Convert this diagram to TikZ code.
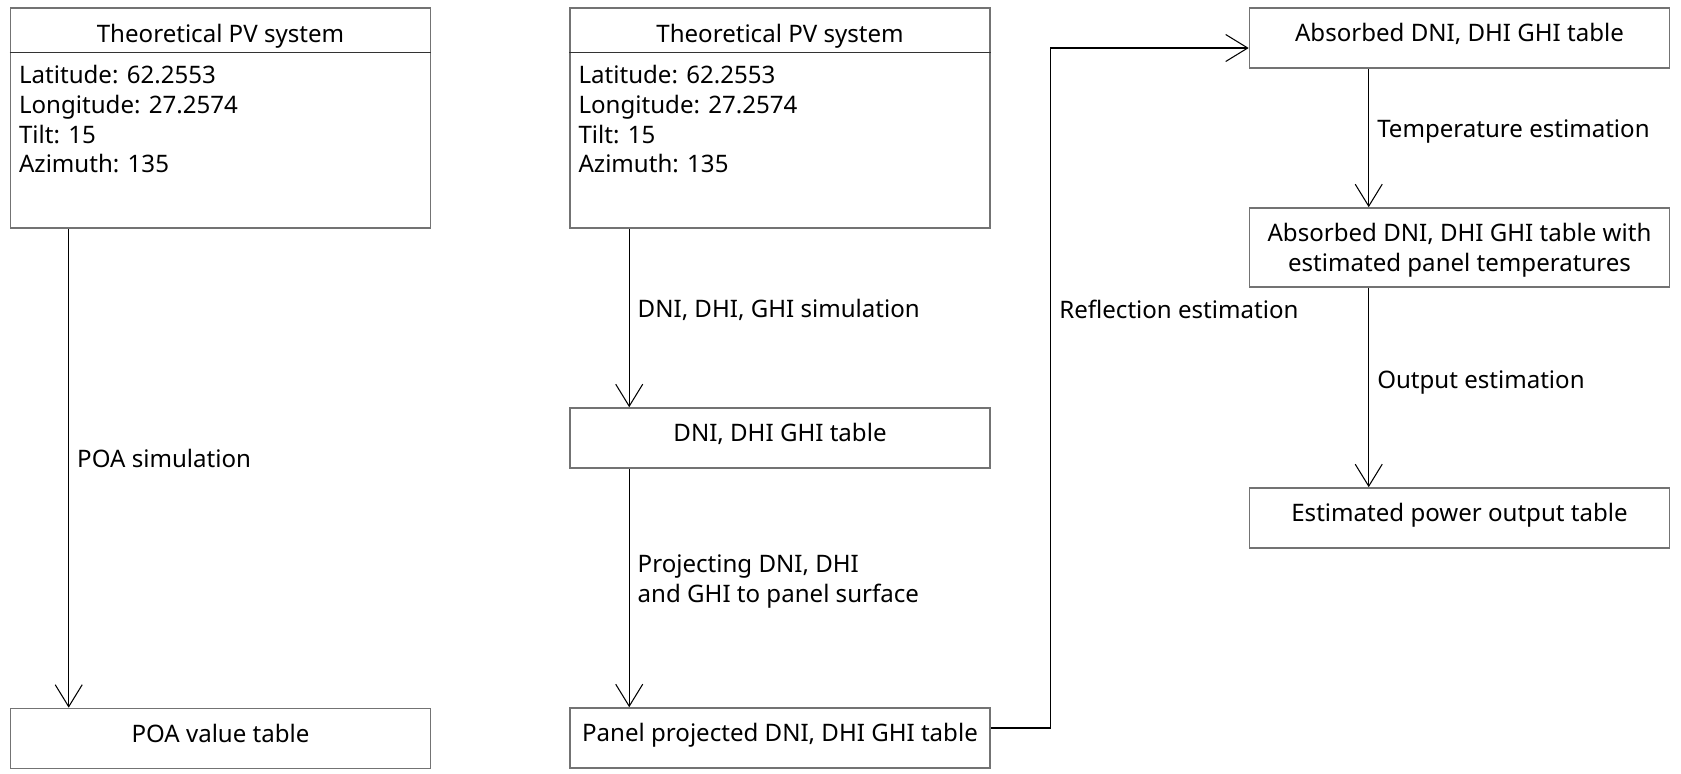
\documentclass[tikz,border=0pt]{standalone}
\usepackage{fontspec}
\setmainfont{Noto Sans}
\usepackage{tikz}
\usetikzlibrary{arrows.meta, positioning, calc}
\tikzset{
  card/.style={rectangle, draw=black!55, line width=0.9pt, minimum width=8.4cm, minimum height=4.4cm, inner sep=0pt},
  table/.style={rectangle, draw=black!55, line width=0.9pt, minimum width=8.4cm, minimum height=1.2cm, text centered, align=center, text height=9.5pt, text depth=5.5pt},
  title/.style={anchor=base, inner sep=0pt},
  body/.style={anchor=north west, inner sep=0pt, align=left},
  step label/.style={right, inner sep=0.16cm, align=left},
  arrow/.style={line width=0.6pt, -{Straight Barb[length=0.44cm, width=0.54cm, line width=0.6pt]}}
}

\begin{document}
\begin{tikzpicture}[node distance=2cm, font=\fontsize{13.7pt}{17pt}\selectfont]

    \useasboundingbox (0,0) rectangle (33.62,-15.46);

    % left chain
    \node (sysA) [card] at (4.41,-2.36) {};
    \node (poa) [table, below of=sysA, yshift=-10.41cm] {POA value table};

    % middle chain
    \node (sysB) [card, right of=sysA, xshift=9.19cm] {};
    \node (dniTable) [table, below of=sysB, yshift=-4.4cm] {DNI, DHI GHI table};
    \node (panelTable) [table, below of=dniTable, yshift=-4cm] {Panel projected DNI, DHI GHI table};

    % right chain
    \node (absorbed) [table, right of=sysB, xshift=11.59cm, yshift=1.6cm] {Absorbed DNI, DHI GHI table};
    \node (absorbedTemp) [table, text height=, text depth=0pt, minimum height=1.58cm, below of=absorbed, yshift=-2.19cm] {Absorbed DNI, DHI GHI table with\\ estimated panel temperatures};
    \node (power) [table, below of=absorbedTemp, yshift=-3.41cm] {Estimated power output table};

    % system cards
    \foreach \card in {sysA, sysB} {
      \node (\card Title) [title] at ([yshift=-0.71cm]\card.north) {Theoretical PV system};
      \draw [black!80, line width=0.6pt] ([yshift=-0.9cm]\card.north west) -- ([yshift=-0.9cm]\card.north east);
      \node (\card Body) [body] at ($(\card.north west)+(0.18,-1.15)$) {Latitude: 62.2553\\Longitude: 27.2574\\Tilt: 15\\Azimuth: 135};
    }

    \draw [arrow] ([xshift=1.18cm]sysA.south west) -- node[step label, pos=0.48] {POA simulation} ([xshift=1.18cm]poa.north west);

    \draw [arrow] ([xshift=1.2cm]sysB.south west) -- node[step label, pos=0.456] {DNI, DHI, GHI simulation} ([xshift=1.2cm]dniTable.north west);
    \draw [arrow] ([xshift=1.2cm]dniTable.south west) -- node[step label, pos=0.473] {Projecting DNI, DHI\\and GHI to panel surface} ([xshift=1.2cm]panelTable.north west);
    \draw [arrow] ([yshift=0.2cm]panelTable.east) -- ++(1.2,0) |- node[step label, pos=0.308] {Reflection estimation} ([yshift=-0.2cm]absorbed.west);

    \draw [arrow] ([xshift=2.4cm]absorbed.south west) -- node[step label, pos=0.455] {Temperature estimation} ([xshift=2.4cm]absorbedTemp.north west);
    \draw [arrow] ([xshift=2.4cm]absorbedTemp.south west) -- node[step label, pos=0.476] {Output estimation} ([xshift=2.4cm]power.north west);

\end{tikzpicture}
\end{document}
